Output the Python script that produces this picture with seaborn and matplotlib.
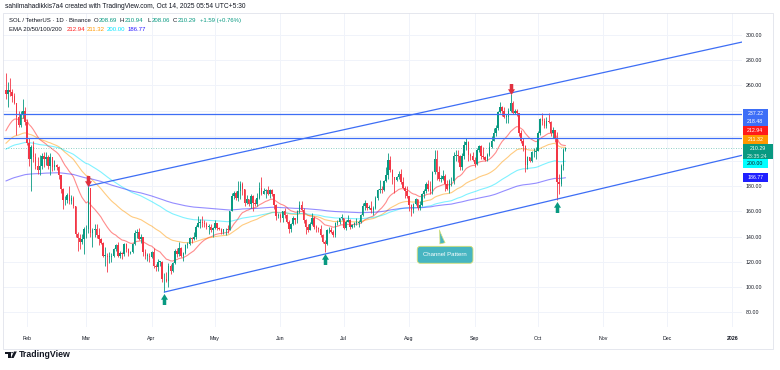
import numpy as np
import pandas as pd
import matplotlib
matplotlib.use("Agg")
import matplotlib.pyplot as plt
import matplotlib.dates as mdates
import matplotlib.transforms as mtransforms
from matplotlib.path import Path
from matplotlib.patches import Rectangle, Polygon, Circle
import seaborn as sns

# --- data: SOL/USDT daily candles, 2025-01-22 .. 2025-10-14 (open = previous close)
START = "2025-01-22"
FIRST_OPEN = 256.0

closes = [
    253, 256, 255, 252, 246, 235, 229, 237, 240, 231,  # Jan
    214, 202, 211, 203, 196, 193, 196, 204, 202, 203, 196, 203, 195, 197, 195, 189, 178, 169, 169, 173,
    168, 171, 164, 142, 139, 136, 138, 146,  # Feb
    146, 179, 143, 145, 146, 141, 138, 135, 125, 125, 124, 124, 125, 130, 133, 125, 127, 126, 134, 130,
    127, 128, 134, 143, 144, 138, 140, 128, 125, 125, 124,  # Mar
    128, 117, 116, 120, 120, 106, 106, 105, 117, 113, 119, 129, 126, 131, 125, 127, 133, 134, 139, 138,
    140, 148, 151, 152, 151, 150, 148, 148, 145, 147,  # Apr
    151, 147, 146, 144, 146, 146, 145, 160, 172, 175, 171, 176, 182, 178, 167, 170, 166, 172, 167, 166,
    171, 179, 174, 176, 177, 174, 177, 174, 165, 156, 157,  # May
    155, 160, 157, 152, 146, 150, 155, 153, 160, 165, 161, 153, 148, 145, 150, 155, 148, 147, 146, 141,
    136, 134, 145, 145, 144, 141, 151, 152, 155, 155,  # Jun
    147, 152, 153, 148, 149, 151, 151, 152, 157, 164, 167, 163, 163, 161, 163, 171, 177, 178, 177, 184,
    189, 201, 193, 187, 185, 187, 190, 183, 179, 176, 172,  # Jul
    165, 161, 166, 170, 163, 165, 174, 176, 182, 178, 176, 191, 202, 191, 186, 186, 188, 182, 178, 184,
    184, 204, 205, 204, 195, 204, 213, 215, 205, 204, 201,  # Aug
    198, 209, 212, 204, 203, 201, 205, 211, 216, 222, 226, 239, 243, 240, 235, 235, 240, 246, 238, 240,
    238, 222, 216, 212, 197, 203, 200, 207, 207, 208,  # Sep
    222, 233, 232, 228, 232, 231, 222, 225, 218, 183, 182, 196, 208.70, 210.29,  # Oct
]
highs = [
    270, 263, 266, 257, 254, 246, 240, 240, 249, 243,
    233, 218, 213, 216, 206, 203, 205, 206, 207, 207, 205, 206, 203, 201, 198, 196, 189, 179, 172, 175,
    180, 173, 172, 164, 144, 142, 142, 148,
    149, 180, 179, 147, 150, 150, 147, 139, 136, 132, 127, 128, 127, 131, 134, 136, 129, 128, 135, 135,
    131, 129, 135, 145, 146, 147, 142, 140, 130, 127, 127,
    129, 131, 118, 122, 121, 121, 111, 112, 119, 118, 120, 130, 131, 136, 132, 128, 134, 136, 140, 140,
    144, 149, 156, 154, 156, 153, 152, 150, 150, 148,
    153, 151, 148, 147, 146, 147, 149, 160, 175, 176, 176, 184, 184, 183, 178, 173, 170, 174, 173, 170,
    175, 183, 187, 179, 178, 180, 178, 178, 174, 166, 159,
    159, 160, 163, 158, 153, 151, 156, 155, 161, 168, 168, 163, 154, 150, 152, 159, 156, 149, 148, 149,
    142, 137, 146, 148, 148, 145, 152, 153, 155, 158,
    155, 153, 157, 154, 150, 152, 155, 153, 158, 167, 169, 167, 165, 168, 164, 172, 178, 185, 180, 185,
    195, 206, 204, 194, 187, 188, 192, 194, 187, 180, 180,
    172, 166, 167, 171, 170, 168, 175, 178, 183, 185, 184, 192, 209, 209, 196, 189, 193, 190, 185, 186,
    187, 207, 209, 209, 205, 206, 216, 218, 216, 206, 207,
    203, 210, 213, 213, 211, 204, 206, 215, 220, 226, 229, 240, 247, 244, 243, 237, 242, 253, 248, 241,
    241, 238, 225, 218, 213, 204, 203, 208, 210, 211,
    224, 234, 238, 234, 235, 238, 232, 227, 225, 223, 190, 198, 210, 210.94,
]
lows = [
    249, 243, 252, 247, 245, 221, 227, 227, 234, 229,
    213, 196, 176, 199, 194, 190, 189, 194, 195, 197, 194, 189, 192, 193, 193, 186, 175, 162, 165, 167,
    166, 166, 163, 140, 129, 130, 134, 126,
    139, 143, 140, 132, 140, 139, 133, 134, 124, 117, 112, 119, 120, 124, 129, 124, 123, 122, 125, 128,
    125, 126, 127, 133, 139, 137, 135, 125, 122, 121, 120,
    123, 115, 113, 113, 117, 104, 96, 104, 100, 110, 112, 118, 124, 125, 124, 121, 126, 131, 133, 135,
    137, 138, 148, 147, 148, 148, 146, 142, 144, 140,
    146, 145, 145, 142, 142, 141, 143, 145, 160, 170, 169, 168, 170, 173, 164, 166, 164, 163, 160, 164,
    164, 170, 173, 174, 171, 173, 171, 172, 162, 153, 155,
    152, 152, 155, 151, 143, 144, 149, 150, 151, 159, 160, 151, 142, 144, 145, 149, 146, 144, 144, 140,
    135, 128, 133, 143, 143, 140, 140, 149, 150, 153,
    146, 145, 152, 146, 147, 148, 149, 148, 151, 156, 161, 161, 162, 159, 157, 162, 169, 175, 175, 176,
    183, 186, 191, 182, 175, 184, 186, 182, 178, 171, 171,
    160, 156, 159, 165, 161, 161, 164, 171, 175, 176, 174, 174, 190, 185, 184, 183, 185, 176, 177, 175,
    180, 182, 200, 199, 193, 193, 202, 209, 200, 201, 200,
    195, 197, 207, 202, 202, 200, 200, 204, 210, 216, 220, 225, 238, 236, 234, 230, 230, 239, 237, 237,
    236, 220, 214, 208, 191, 194, 199, 199, 203, 202,
    208, 221, 229, 226, 226, 230, 220, 218, 215, 169, 174, 180, 193, 208.06,
]

ema_spans = [20, 50, 100, 200]
ema_seeds = [221.0, 212.5, 208.5, 183.5]          # EMA values on the first visible day
ema_last = [212.94, 211.32, 200.00, 186.77]       # values printed on the chart
ema_colors = ["#ff1a1a", "#ff9800", "#00e5ff", "#2b1cff"]

level_prices = [237.22, 218.48]
upper_dates = ["2025-03-02", "2025-09-18"]
upper_prices = [180.2, 254.0]
lower_dates = ["2025-04-07", "2025-10-10"]
lower_prices = [96.0, 169.8]

down_arrow_dates = ["2025-03-02", "2025-09-18"]
up_arrow_dates = ["2025-04-07", "2025-06-22", "2025-10-10"]

month_ticks = ["2025-02-01", "2025-03-01", "2025-04-01", "2025-05-01", "2025-06-01", "2025-07-01",
               "2025-08-01", "2025-09-01", "2025-10-01", "2025-11-01", "2025-12-01", "2026-01-01"]
month_labels = ["Feb", "Mar", "Apr", "May", "Jun", "Jul", "Aug", "Sep", "Oct", "Nov", "Dec", "2026"]
price_ticks = [80, 100, 120, 140, 160, 180, 200, 220, 240, 260, 280, 300]
hidden_ticks = [200, 220, 240]   # covered by the price scale labels

last_price = 210.29
countdown = "23:35:24"

UP = "#089981"
DOWN = "#f23645"
LINE_BLUE = "#3d6ef5"
TXT = "#131722"

# --- frame
dates = pd.date_range(START, periods=len(closes), freq="D")
df = pd.DataFrame({"date": dates, "close": closes, "high": highs, "low": lows})
df["open"] = [FIRST_OPEN] + closes[:-1]
df["x"] = mdates.date2num(df["date"])
up = df["close"] >= df["open"]
df["color"] = np.where(up, UP, DOWN)

sns.set_theme(style="white")
plt.rcParams["font.family"] = ["Liberation Sans", "DejaVu Sans"]

W, H = 780, 370
fig = plt.figure(figsize=(W / 100, H / 100), dpi=100)
fig.patch.set_facecolor("white")
ax_l, ax_r, ax_t, ax_b = 3, 742, 13, 327
ax = fig.add_axes([ax_l / W, 1 - ax_b / H, (ax_r - ax_l) / W, (ax_b - ax_t) / H])

feb1 = mdates.date2num(pd.Timestamp("2025-02-01"))
ax.set_xlim(feb1 - 11.37, feb1 + 338.6)
ax.set_ylim(68.3, 317.5)
for s in ax.spines.values():
    s.set_visible(False)

# EMAs
for span, seed, col in zip(ema_spans, ema_seeds, ema_colors):
    a = 2.0 / (span + 1)
    vals, e = [], seed
    for c in closes:
        e = e + a * (c - e)
        vals.append(e)
    sns.lineplot(x=df["x"].values, y=vals, ax=ax, color=col, lw=0.8, alpha=0.5, legend=False, zorder=2)

# grid and ticks
ax.set_xticks(mdates.date2num(pd.to_datetime(month_ticks)))
ax.set_xticklabels(month_labels)
ax.set_yticks(price_ticks)
ax.set_yticklabels(["" if v in hidden_ticks else f"{v:.2f}" for v in price_ticks])
ax.set_xlabel("")
ax.set_ylabel("")
ax.grid(True, color="#f0f3fa", lw=0.7)
ax.set_axisbelow(True)
ax.yaxis.tick_right()
ax.tick_params(axis="y", length=0, pad=2.9, labelsize=3.8, labelcolor=TXT)
ax.tick_params(axis="x", length=0, pad=6.3, labelsize=3.8, labelcolor=TXT)
ax.get_xticklabels()[-1].set_fontweight("bold")

# candles
ax.vlines(df["x"], df["low"], df["high"], colors=df["color"], lw=0.6, zorder=3)
body_lo = np.minimum(df["open"], df["close"])
body_h = np.maximum(np.abs(df["close"] - df["open"]), 0.4)
ax.bar(df["x"], body_h, bottom=body_lo, width=0.7, color=df["color"], linewidth=0, zorder=3)

# horizontal levels, channel
for p in level_prices:
    ax.axhline(p, color=LINE_BLUE, lw=0.9, zorder=4)
ax.axhline(last_price, color=UP, lw=0.6, ls=(0, (1, 2)), alpha=0.6, zorder=2)

x_end = ax.get_xlim()[1]
for dl, pl in ((upper_dates, upper_prices), (lower_dates, lower_prices)):
    x0, x1 = mdates.date2num(pd.to_datetime(dl))
    slope = (pl[1] - pl[0]) / (x1 - x0)
    ax.plot([x0, x_end], [pl[0], pl[0] + slope * (x_end - x0)], color=LINE_BLUE, lw=0.9, zorder=4)

# arrows
arrow_down = Path([(-0.16, 0.5), (0.16, 0.5), (0.16, 0.02), (0.32, 0.02), (0, -0.5),
                   (-0.32, 0.02), (-0.16, 0.02), (-0.16, 0.5)], closed=True)
arrow_up = Path([(x, -y) for x, y in arrow_down.vertices], closed=True)
for d in down_arrow_dates:
    row = df[df["date"] == pd.Timestamp(d)].iloc[0]
    tr = ax.transData + mtransforms.ScaledTranslation(0, 5.6 / 100, fig.dpi_scale_trans)
    ax.plot(row["x"], row["high"], marker=arrow_down, ms=7.9, color="#e0303e", mec="none",
            transform=tr, zorder=6, clip_on=False)
for d in up_arrow_dates:
    row = df[df["date"] == pd.Timestamp(d)].iloc[0]
    tr = ax.transData + mtransforms.ScaledTranslation(0, -7.0 / 100, fig.dpi_scale_trans)
    ax.plot(row["x"], row["low"], marker=arrow_up, ms=7.9, color=UP, mec="none",
            transform=tr, zorder=6, clip_on=False)

# callout
lx0, lx1 = mdates.date2num(pd.to_datetime(lower_dates))
ax_pt = mdates.date2num(pd.Timestamp("2025-08-15"))
pt_y = lower_prices[0] + (lower_prices[1] - lower_prices[0]) / (lx1 - lx0) * (ax_pt - lx0)
ax.annotate("Channel Pattern", xy=(ax_pt, pt_y),
            xytext=(mdates.date2num(pd.Timestamp("2025-08-18")), 125.6),
            ha="center", va="center", fontsize=4.3, color="white", zorder=7,
            bbox=dict(boxstyle="round,pad=1.0,rounding_size=0.5", fc="#47b5c1", ec="#d6df72", lw=0.6),
            arrowprops=dict(arrowstyle="wedge,tail_width=0.9,shrink_factor=0.4", fc="#47b5c1",
                            ec="#d6df72", lw=0.5))

# price scale labels (stacked like the platform does)
px_per = (ax_b - ax_t) / (317.5 - 68.3)
h = 8.7 / px_per
bt = mtransforms.blended_transform_factory(ax.transAxes, ax.transData)
bx0 = (742.5 - ax_l) / (ax_r - ax_l)
bw = 25.5 / (ax_r - ax_l)
gw = 30.0 / (ax_r - ax_l)


def price_box(center, text, bg, fg, width=bw):
    ax.add_patch(Rectangle((bx0, center - h / 2), width, h, transform=bt, fc=bg, ec="none",
                           clip_on=False, zorder=20))
    ax.text(bx0 + width / 2, center, text, transform=bt, ha="center", va="center",
            fontsize=3.8, color=fg, clip_on=False, zorder=21)


g_top = last_price + h / 2
g_bot = last_price - h / 2 - 0.76 * h
above = [(ema_last[1], "#ff9800", "white"), (ema_last[0], "#ff1a1a", "white"),
         (level_prices[1], "#3d6ef7", "white"), (level_prices[0], "#3d6ef7", "white")]
below = [(ema_last[2], "#00ffff", TXT), (ema_last[3], "#1f1fff", "white")]
edge = g_top
for p, bg, fg in above:
    c = max(p, edge + h / 2)
    price_box(c, f"{p:.2f}", bg, fg)
    edge = c + h / 2
edge = g_bot
for p, bg, fg in below:
    c = min(p, edge - h / 2)
    price_box(c, f"{p:.2f}", bg, fg)
    edge = c - h / 2
ax.add_patch(Rectangle((bx0, g_bot), gw, g_top - g_bot, transform=bt, fc=UP, ec="none",
                       clip_on=False, zorder=20))
ax.text(bx0 + gw / 2, last_price, f"{last_price:.2f}", transform=bt, ha="center", va="center",
        fontsize=3.8, color="white", clip_on=False, zorder=21)
ax.text(bx0 + gw / 2, last_price - 0.92 * h, countdown, transform=bt, ha="center", va="center",
        fontsize=3.8, color="#d8f0ea", clip_on=False, zorder=21)

# outer frame
fig.add_artist(Rectangle((3 / W, 1 - 349 / H), 770 / W, 336 / H, transform=fig.transFigure,
                         fill=False, ec="#e0e3eb", lw=0.6))


# header texts
def ftext(xp, yp, s, color=TXT, size=4.3, **kw):
    fig.text(xp / W, 1 - yp / H, s, color=color, fontsize=size, va="center", ha="left", **kw)


ftext(5, 6.5, "sahilmahadikkis7a4 created with TradingView.com, Oct 14, 2025 05:54 UTC+5:30", size=4.8)
ftext(9, 20.7, "SOL / TetherUS \u00b7 1D \u00b7 Binance")
for xp, lab, val in ((94, "O", "208.69"), (120, "H", "210.94"), (147, "L", "208.06"), (173, "C", "210.29")):
    ftext(xp, 20.7, lab)
    ftext(xp + 4.3, 20.7, val, color=UP)
ftext(200, 20.7, "+1.59 (+0.76%)", color=UP)
ftext(9, 29.5, "EMA 20/50/100/200")
for xp, val, col in zip((67, 87, 107, 128), ema_last, ema_colors):
    ftext(xp, 29.5, f"{val:.2f}", color=col)

# logo
fig.add_artist(Polygon([(5 / W, 1 - 351.5 / H), (10.5 / W, 1 - 351.5 / H), (10.5 / W, 1 - 358 / H),
                        (8 / W, 1 - 358 / H), (8 / W, 1 - 353.8 / H), (5 / W, 1 - 353.8 / H)],
                       closed=True, transform=fig.transFigure, fc=TXT, ec="none"))
fig.add_artist(Circle((12.2 / W, 1 - 352.7 / H), 1.1 / W, transform=fig.transFigure, fc=TXT, ec="none"))
fig.add_artist(Polygon([(14 / W, 1 - 351.5 / H), (16.8 / W, 1 - 351.5 / H), (13.6 / W, 1 - 358 / H),
                        (11 / W, 1 - 358 / H)], closed=True, transform=fig.transFigure, fc=TXT, ec="none"))
ftext(18.5, 354.8, "TradingView", size=6.3, fontweight="semibold")

fig.savefig("out.png", dpi=100, facecolor="white")
